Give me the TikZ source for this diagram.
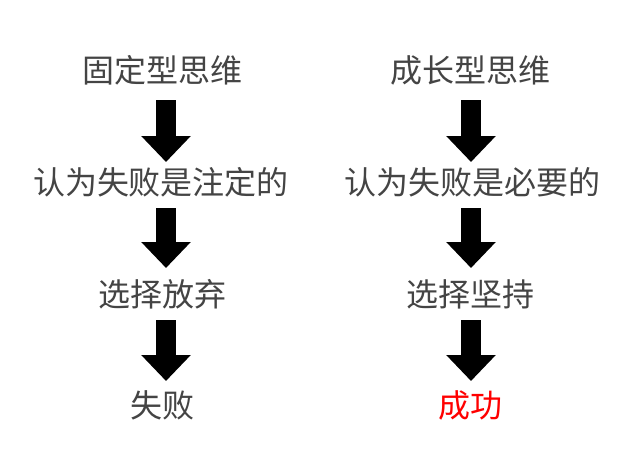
\documentclass[tikz,border=0pt]{standalone}
\usepackage{fontspec}
\setmainfont{Noto Sans CJK SC}
\usetikzlibrary{arrows.meta}
\definecolor{tx}{HTML}{444444}
\begin{document}
\begin{tikzpicture}[x=1pt,y=-1pt,
  lbl/.style={font=\fontsize{32}{36}\selectfont,text=tx,inner sep=0pt},
  bigarr/.style={line width=20pt,-{Triangle[width=48pt,length=26pt]},black,shorten <=0pt}]
\useasboundingbox (0,0) rectangle (640,467);
\node[lbl] (l1) at (162,70) {固定型思维};
\node[lbl] (l2) at (161,182) {认为失败是注定的};
\node[lbl] (l3) at (162,294) {选择放弃};
\node[lbl] (l4) at (162,405) {失败};
\node[lbl] (r1) at (470,70) {成长型思维};
\node[lbl] (r2) at (472,182) {认为失败是必要的};
\node[lbl] (r3) at (470,294) {选择坚持};
\node[lbl,text=red] (r4) at (470,405) {成功};
\coordinate (a1s) at (166,100); \coordinate (a1e) at (166,162);
\coordinate (a2s) at (166,208); \coordinate (a2e) at (166,268);
\coordinate (a3s) at (166,320); \coordinate (a3e) at (166,381);
\coordinate (b1s) at (471,100); \coordinate (b1e) at (471,162);
\coordinate (b2s) at (471,208); \coordinate (b2e) at (471,268);
\coordinate (b3s) at (471,320); \coordinate (b3e) at (471,381);
\draw[bigarr] (a1s) -- (a1e);
\draw[bigarr] (a2s) -- (a2e);
\draw[bigarr] (a3s) -- (a3e);
\draw[bigarr] (b1s) -- (b1e);
\draw[bigarr] (b2s) -- (b2e);
\draw[bigarr] (b3s) -- (b3e);
\end{tikzpicture}
\end{document}
